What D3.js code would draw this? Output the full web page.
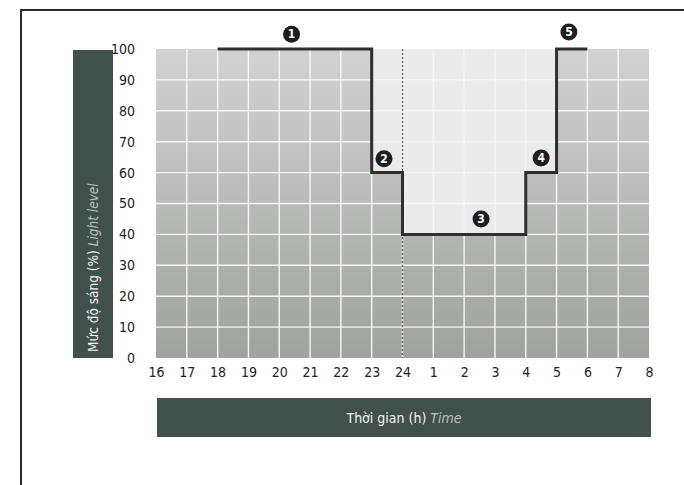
<!DOCTYPE html>
<html>
<head>
<meta charset="utf-8">
<script src="https://cdn.jsdelivr.net/npm/d3@7/dist/d3.min.js"></script>
<style>
  html, body { margin: 0; padding: 0; background: #fff; }
  svg { display: block; }
  text { font-family: "DejaVu Sans", sans-serif; font-stretch: condensed; }
</style>
</head>
<body>
<svg id="chart" width="684" height="485"></svg>
<script>
// Hour ticks along the bottom (16h through midnight to 8h)
const hourLabels = ["16","17","18","19","20","21","22","23","24","1","2","3","4","5","6","7","8"];
const hourStart = 16;                     // continuous hours: 16 … 32
const levelTicks = [0,10,20,30,40,50,60,70,80,90,100];

// Lighting schedule: time (continuous hours) and light level (%), stepped
const scheduleTimes  = [18, 23, 24, 28, 29, 30];
const scheduleLevels = [100, 60, 40, 60, 100, 100];

// Dimmed stretch (shaded lighter above the level line)
const dimTimes  = [23, 24, 28, 29];
const dimLevels = [60, 40, 60, 100];

// Numbered stage markers
const stageIds    = ["1","2","3","4","5"];
const stageTimes  = [20.4, 23.4, 26.55, 28.5, 29.4];
const stageLevels = [104.8, 64.5, 45, 64.7, 105.5];

const midnight = 24;

const svg = d3.select("#chart");
const plot = { left: 156, right: 649, top: 49, bottom: 358 };

const x = d3.scaleLinear().domain([hourStart, hourStart + hourLabels.length - 1]).range([plot.left, plot.right]);
const y = d3.scaleLinear().domain([0, 100]).range([plot.bottom, plot.top]);

// outer frame (top and left rules)
svg.append("path")
  .attr("d", "M21,485 V10 H684")
  .attr("fill", "none").attr("stroke", "#2a2a2a").attr("stroke-width", 2);

// background gradient
const defs = svg.append("defs");
const grad = defs.append("linearGradient").attr("id", "bg").attr("x1", 0).attr("y1", 0).attr("x2", 0).attr("y2", 1);
grad.append("stop").attr("offset", "0%").attr("stop-color", "#d2d2d2");
grad.append("stop").attr("offset", "100%").attr("stop-color", "#9fa29f");

svg.append("rect")
  .attr("x", plot.left).attr("y", plot.top)
  .attr("width", plot.right - plot.left).attr("height", plot.bottom - plot.top)
  .attr("fill", "url(#bg)");

// lighter dimmed area
const dimArea = d3.area()
  .x((d, i) => x(dimTimes[i]))
  .y0(y(100))
  .y1((d, i) => y(dimLevels[i]))
  .curve(d3.curveStepAfter);
svg.append("path")
  .datum(dimTimes)
  .attr("d", dimArea)
  .attr("fill", "#ebebeb");

// grid
const hourValues = hourLabels.map((_, i) => hourStart + i);
svg.append("g").selectAll("line").data(hourValues.slice(1, -1)).join("line")
  .attr("x1", d => x(d)).attr("x2", d => x(d))
  .attr("y1", plot.top).attr("y2", plot.bottom)
  .attr("stroke", "#f6f6f6").attr("stroke-width", 1.4);
svg.append("g").selectAll("line").data(levelTicks.slice(1, -1)).join("line")
  .attr("x1", plot.left).attr("x2", plot.right)
  .attr("y1", d => y(d)).attr("y2", d => y(d))
  .attr("stroke", "#f6f6f6").attr("stroke-width", 1.4);

// midnight dotted guide
svg.append("line")
  .attr("x1", x(midnight)).attr("x2", x(midnight))
  .attr("y1", y(100)).attr("y2", y(0))
  .attr("stroke", "#555").attr("stroke-width", 1.2)
  .attr("stroke-dasharray", "2,2");

// level line
const line = d3.line()
  .x((d, i) => x(scheduleTimes[i]))
  .y((d, i) => y(scheduleLevels[i]))
  .curve(d3.curveStepAfter);
svg.append("path")
  .datum(scheduleTimes)
  .attr("d", line)
  .attr("fill", "none").attr("stroke", "#2f2f2f").attr("stroke-width", 3)
  .attr("stroke-linejoin", "miter");

// stage markers
const stages = svg.append("g").selectAll("g").data(stageIds).join("g")
  .attr("transform", (d, i) => `translate(${x(stageTimes[i])},${y(stageLevels[i])})`);
stages.append("circle").attr("r", 8.5).attr("fill", "#1e1e1e");
stages.append("text")
  .attr("text-anchor", "middle").attr("dy", "0.36em")
  .attr("fill", "#fff").attr("font-size", 12).attr("font-weight", "bold")
  .text(d => d);

// x axis tick labels
const xAxis = d3.axisBottom(x)
  .tickValues(hourValues)
  .tickFormat((d, i) => hourLabels[i])
  .tickSize(0).tickPadding(9);
const gx = svg.append("g").attr("transform", `translate(0,${plot.bottom})`).call(xAxis);
gx.select(".domain").remove();
gx.selectAll("text").attr("font-size", 14).attr("fill", "#222")
  .style("font-family", "'DejaVu Sans', sans-serif").style("font-stretch", "condensed");

// y axis tick labels
const yAxis = d3.axisLeft(y)
  .tickValues(levelTicks)
  .tickSize(0).tickPadding(21);
const gy = svg.append("g").attr("transform", `translate(${plot.left},0)`).call(yAxis);
gy.select(".domain").remove();
gy.selectAll("text").attr("font-size", 14).attr("fill", "#222")
  .style("font-family", "'DejaVu Sans', sans-serif").style("font-stretch", "condensed");

// y axis title bar
const yBox = { x: 73, y: 50, w: 40, h: 308 };
svg.append("rect").attr("x", yBox.x).attr("y", yBox.y).attr("width", yBox.w).attr("height", yBox.h)
  .attr("fill", "#42504b");
const yTitle = svg.append("text")
  .attr("transform", `translate(${yBox.x + yBox.w / 2 + 5},${yBox.y + yBox.h - 6}) rotate(-90)`)
  .attr("text-anchor", "start").attr("font-size", 13.5);
yTitle.append("tspan").attr("fill", "#f2f2f2").text("Mức độ sáng (%) ");
yTitle.append("tspan").attr("fill", "#b9c1be").attr("font-style", "italic").text("Light level");

// x axis title bar
const xBox = { x: 157, y: 398, w: 494, h: 39 };
svg.append("rect").attr("x", xBox.x).attr("y", xBox.y).attr("width", xBox.w).attr("height", xBox.h)
  .attr("fill", "#42504b");
const xTitle = svg.append("text")
  .attr("x", xBox.x + xBox.w / 2).attr("y", xBox.y + xBox.h / 2 + 5)
  .attr("text-anchor", "middle").attr("font-size", 14);
xTitle.append("tspan").attr("fill", "#f2f2f2").text("Thời gian (h) ");
xTitle.append("tspan").attr("fill", "#b9c1be").attr("font-style", "italic").text("Time");
</script>
</body>
</html>
